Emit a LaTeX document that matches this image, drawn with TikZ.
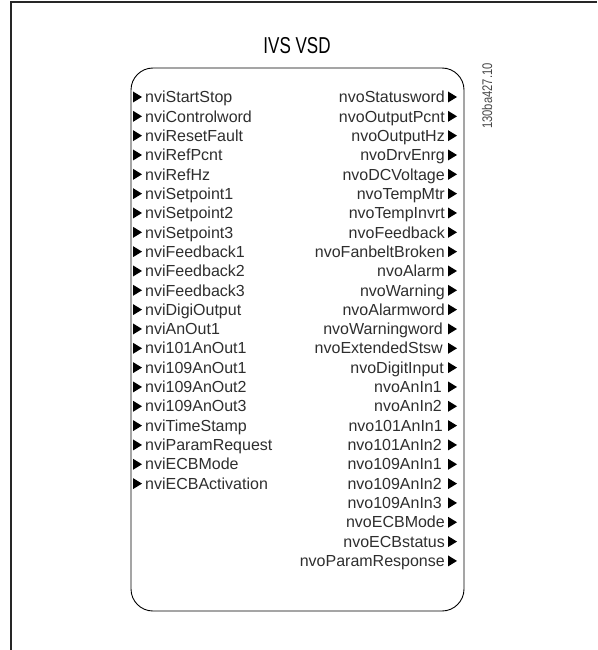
\documentclass[tikz,border=0pt]{standalone}
\usepackage{fontspec}
\setmainfont{Liberation Sans}
\newfontfamily\titlefont[FakeStretch=0.74]{Liberation Sans}
\newfontfamily\codefont[FakeStretch=0.8]{Liberation Sans}
\begin{document}
\begin{tikzpicture}[x=1pt,y=-1pt,
  frameline/.style={line width=1.4pt, black!85},
  blockbox/.style={draw, line width=0.9pt, rounded corners=22pt, inner sep=0pt},
  lbl/.style={inner sep=0pt, font=\fontsize{16}{18}\selectfont, text=black!82},
  tri/.style={fill=black},
  titletext/.style={font=\titlefont\fontsize{23}{26}\selectfont, inner sep=0pt},
  codetext/.style={font=\codefont\fontsize{14}{16}\selectfont, text=black!72, rotate=90, inner sep=0pt}
]
\useasboundingbox (0,0) rectangle (597,650);
\coordinate (fa) at (11,650);
\coordinate (fb) at (11,2);
\coordinate (fc) at (597,2);
\draw[frameline] (fa) -- (fb) -- (fc);
\node[titletext] (title) at (297,46) {IVS VSD};
\node[blockbox, minimum width=333pt, minimum height=543pt] (box) at (297.5,339.5) {};
\node[codetext] (code) at (487,96) {130ba427.10};
\foreach \t [count=\i from 0] in {nviStartStop,nviControlword,nviResetFault,nviRefPcnt,nviRefHz,nviSetpoint1,nviSetpoint2,nviSetpoint3,nviFeedback1,nviFeedback2,nviFeedback3,nviDigiOutput,nviAnOut1,nvi101AnOut1,nvi109AnOut1,nvi109AnOut2,nvi109AnOut3,nviTimeStamp,nviParamRequest,nviECBMode,nviECBActivation}{
  \node[lbl, anchor=base west] (in\i) at (145,{97+19.33*\i+5.7}) {\t};
  \fill[tri] (133,{97+19.33*\i-5.5}) -- (142,{97+19.33*\i}) -- (133,{97+19.33*\i+5.5}) -- cycle;
}
\foreach \t/\g [count=\i from 0] in {nvoStatusword/0,nvoOutputPcnt/0,nvoOutputHz/0,nvoDrvEnrg/0,nvoDCVoltage/0,nvoTempMtr/0,nvoTempInvrt/0,nvoFeedback/0,nvoFanbeltBroken/0,nvoAlarm/0,nvoWarning/0,nvoAlarmword/0,nvoWarningword/2,nvoExtendedStsw/2,nvoDigitInput/1,nvoAnIn1/3,nvoAnIn2/3,nvo101AnIn1/2,nvo101AnIn2/3,nvo109AnIn1/3,nvo109AnIn2/3,nvo109AnIn3/3,nvoECBMode/0,nvoECBstatus/0,nvoParamResponse/0}{
  \node[lbl, anchor=base east] (out\i) at ({445-\g},{97+19.33*\i+5.7}) {\t};
  \fill[tri] (448,{97+19.33*\i-5.5}) -- (457,{97+19.33*\i}) -- (448,{97+19.33*\i+5.5}) -- cycle;
}
\end{tikzpicture}
\end{document}
